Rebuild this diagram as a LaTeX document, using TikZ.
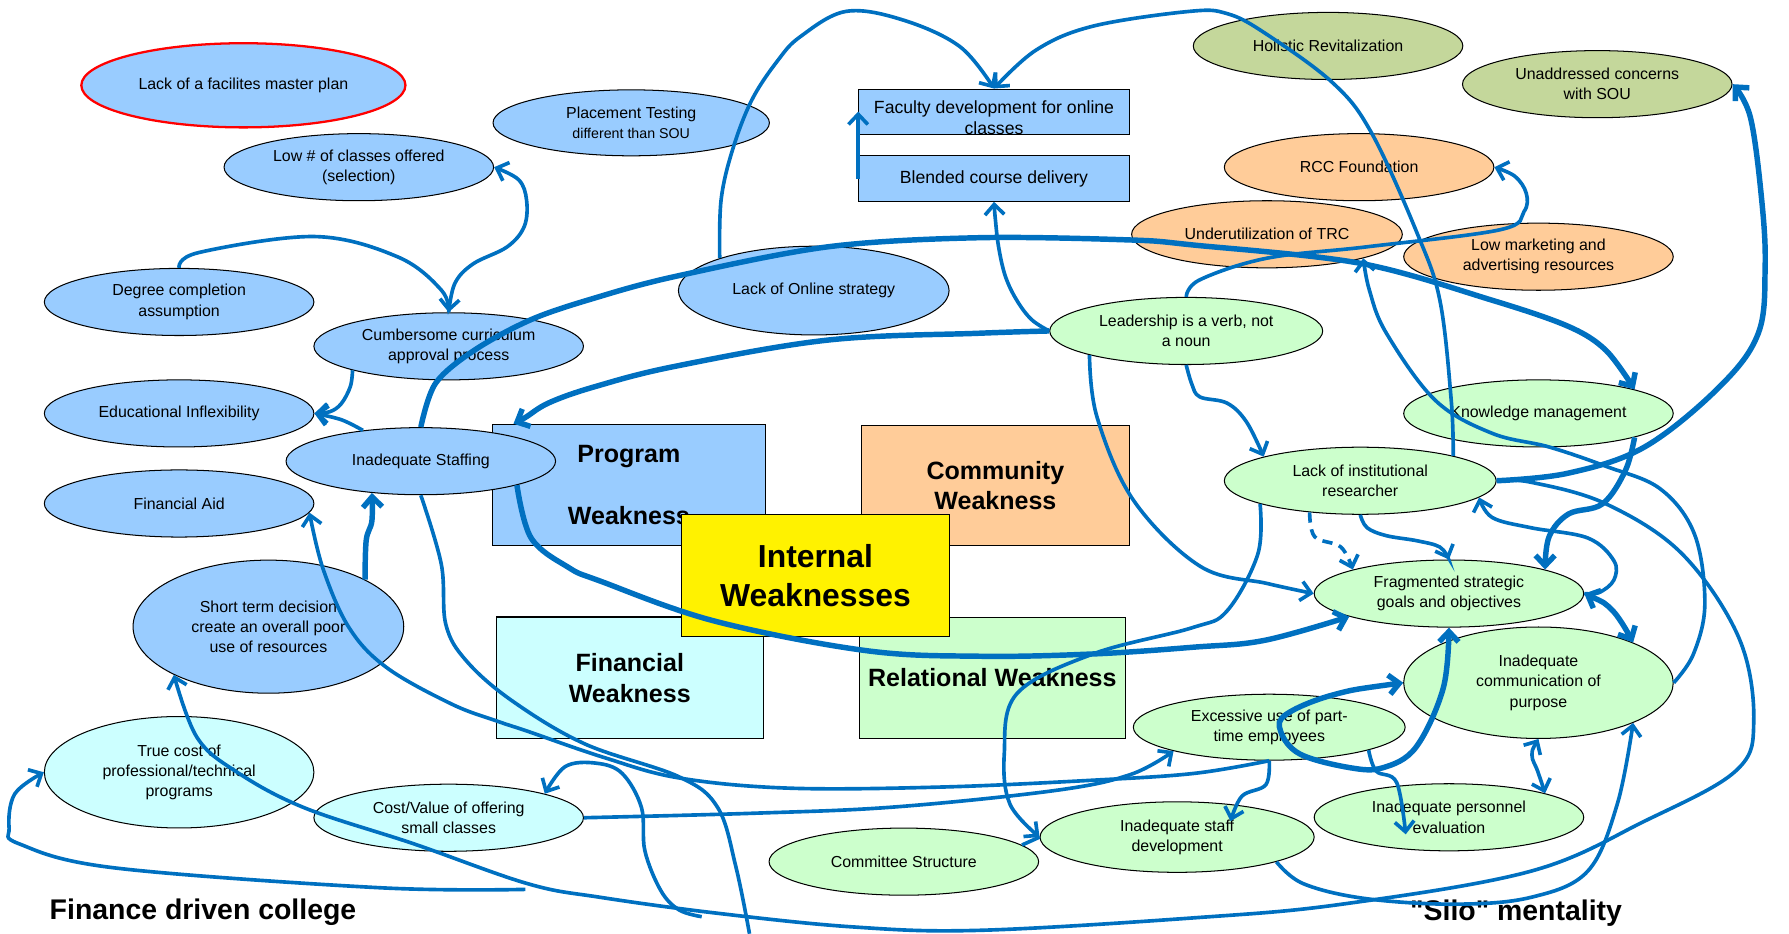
\documentclass[tikz,border=0pt]{standalone}
\usepackage{fontspec}
\setmainfont{Liberation Sans}[Ligatures=TeXOff]
\usetikzlibrary{shapes.geometric,arrows.meta,calc}
\definecolor{cblue}{HTML}{99CCFF}
\definecolor{ccyan}{HTML}{CCFFFF}
\definecolor{corange}{HTML}{FFCC99}
\definecolor{colive}{HTML}{C4D79B}
\definecolor{cgreen}{HTML}{CCFFCC}
\definecolor{lnk}{HTML}{0070C0}
\begin{document}
\begin{tikzpicture}[x=1pt,y=-1pt,
  el/.style={ellipse,draw=black,line width=0.9pt,inner sep=0pt,minimum width=237pt,minimum height=59pt},
  eb/.style={el,fill=cblue}, ec/.style={el,fill=ccyan}, eo/.style={el,fill=corange},
  eg/.style={el,fill=colive}, egr/.style={el,fill=cgreen},
  tx/.style={font=\fontsize{14}{17.8}\selectfont,align=center,inner sep=0pt},
  bx/.style={draw=black,line width=0.9pt,inner sep=0pt},
  btx/.style={font=\fontsize{15.5}{19}\selectfont,align=center,inner sep=0pt},
  bt/.style={font=\bfseries\fontsize{22}{26.5}\selectfont,align=center,inner sep=0pt},
  con/.style={draw=lnk,line width=3.2pt},
  thk/.style={draw=lnk,line width=4.8pt},
  sm/.style={smooth,tension=0.6},
  >={Straight Barb[length=9pt,width=17pt]}
]
\useasboundingbox (0,0) rectangle (1573,821.2);

% ---- boxes
\node[bx,fill=cblue,minimum width=238pt,minimum height=39.6pt] (fac) at (874,98.1) {};
\begin{scope}
\clip (fac.south west) rectangle (fac.north east);
\node[btx,yshift=-5.5pt] (fac-t) at (fac) {Faculty development for online\\classes};
\end{scope}
\node[bx,fill=cblue,minimum width=238pt,minimum height=40pt] (blend) at (874,157) {};
\node[btx] (blend-t) at (blend) {Blended course delivery};
\node[bx,fill=cblue,minimum width=240pt,minimum height=107pt] (prog) at (553,426.5) {};
\node[bt,font=\bfseries\fontsize{22}{27.3}\selectfont] (prog-t) at (prog) {Program\\\mbox{}\\Weakness};
\node[bx,fill=corange,minimum width=235pt,minimum height=106pt] (comm) at (875.2,427) {};
\node[bt,font=\bfseries\fontsize{22}{25.8}\selectfont] (comm-t) at (comm) {Community\\Weakness};
\node[bx,fill=ccyan,minimum width=235pt,minimum height=107pt] (fin) at (553.7,596) {};
\node[bt,font=\bfseries\fontsize{22}{27.3}\selectfont] (fin-t) at (fin) {Financial\\Weakness};
\node[bx,fill=cgreen,minimum width=234pt,minimum height=106pt] (rel) at (872.5,596) {};
\node[bt] (rel-t) at (rel) {Relational Weakness};
\node[bx,fill=yellow,minimum width=235pt,minimum height=107pt] (intw) at (717,506.2) {};
\node[bt,font=\bfseries\fontsize{28}{34.7}\selectfont] (intw-t) at (intw) {Internal\\Weaknesses};

% ---- blue ellipses
\node[eb,minimum width=285pt,minimum height=74pt,draw=red,line width=2pt] (lmp) at (214,75) {};
\node[tx] (lmp-t) at (lmp) {Lack of a facilites master plan};
\node[eb,minimum width=243pt,minimum height=58pt] (place) at (555,108) {};
\node[tx] (place-t) at (place) {Placement Testing\\{\fontsize{12.5}{15}\selectfont different than SOU}};
\node[eb] (low) at (315.5,147) {};
\node[tx] (low-t) at (low) {Low \# of classes offered\\(selection)};
\node[eb] (deg) at (157.5,265.5) {};
\node[tx] (deg-t) at (deg) {Degree completion\\assumption};
\node[eb] (cum) at (394.5,304.5) {};
\node[tx] (cum-t) at (cum) {Cumbersome curriculum\\approval process};
\node[eb] (edu) at (157.5,363.5) {};
\node[tx] (edu-t) at (edu) {Educational Inflexibility};
\node[eb] (faid) at (157.5,442.7) {};
\node[tx] (faid-t) at (faid) {Financial Aid};
\node[eb] (staff) at (370,405.5) {};
\node[tx] (staff-t) at (staff) {Inadequate Staffing};
\node[eb,minimum width=238pt,minimum height=117pt] (short) at (236,551) {};
\node[tx] (short-t) at (short) {Short term decision\\create an overall poor\\use of resources};
\node[eb,minimum width=238pt,minimum height=78pt] (online) at (715.5,255.5) {};
\node[tx] (online-t) at (online) {Lack of Online strategy};
\node[ec,minimum height=98pt] (tcost) at (157.5,679) {};
\node[tx] (tcost-t) at (tcost) {True cost of\\professional/technical\\programs};
\node[ec] (cv) at (394.5,719) {};
\node[tx] (cv-t) at (cv) {Cost/Value of offering\\small classes};

% ---- orange / olive / green ellipses
\node[eo] (rcc) at (1195,147) {};
\node[tx] (rcc-t) at (rcc) {RCC Foundation};
\node[eo,minimum width=238pt] (trc) at (1114,206) {};
\node[tx] (trc-t) at (trc) {Underutilization of TRC};
\node[eo] (mkt) at (1352.7,225.7) {};
\node[tx] (mkt-t) at (mkt) {Low marketing and\\advertising resources};
\node[eg] (hol) at (1167.7,40.4) {};
\node[tx] (hol-t) at (hol) {Holistic Revitalization};
\node[eg] (sou) at (1404.4,74) {};
\node[tx] (sou-t) at (sou) {Unaddressed concerns\\with SOU};
\node[egr,minimum width=240pt] (lead) at (1043,291) {};
\node[tx] (lead-t) at (lead) {Leadership is a verb, not\\a noun};
\node[egr] (km) at (1352.7,363.5) {};
\node[tx] (km-t) at (km) {Knowledge management};
\node[egr,minimum width=239pt] (lir) at (1196,422.7) {};
\node[tx] (lir-t) at (lir) {Lack of institutional\\researcher};
\node[egr] (frag) at (1274,521.9) {};
\node[tx] (frag-t) at (frag) {Fragmented strategic\\goals and objectives};
\node[egr,minimum height=98pt] (icp) at (1352.7,600.3) {};
\node[tx] (icp-t) at (icp) {Inadequate\\communication of\\purpose};
\node[egr,minimum width=239pt,minimum height=58pt] (exc) at (1116,639.4) {};
\node[tx] (exc-t) at (exc) {Excessive use of part-\\time employees};
\node[egr] (pers) at (1274,718.6) {};
\node[tx] (pers-t) at (pers) {Inadequate personnel\\evaluation};
\node[egr,minimum width=241pt,minimum height=62pt] (sdev) at (1035,736) {};
\node[tx] (sdev-t) at (sdev) {Inadequate staff\\development};
\node[egr] (cst) at (794.7,757.6) {};
\node[tx] (cst-t) at (cst) {Committee Structure};

% ---- titles
\node[font=\bfseries\fontsize{25}{30}\selectfont,inner sep=0pt] (fdc) at (178.5,802) {Finance driven college};
\node[font=\bfseries\fontsize{25}{30}\selectfont,inner sep=0pt] (silo) at (1333,803) {"Silo" mentality};

% ---- free ends
\coordinate (tfree) at (462,782);
\coordinate (sfree) at (659,821);
\coordinate (cfree) at (617,806);

% ---- connectors
\draw[con,->] plot[sm] coordinates {(deg.north) (175,222) (277,208) (350,226) (388,255) (cum.north)};
\draw[con,->] plot[sm] coordinates {(cum.north) (400,249) (416,232) (446,217) (461,199) (463,176) (456,158) (low.east)};
\draw[con,->] plot[sm] coordinates {(cum.194) (308,340) (300,355) (290,362) (edu.east)};
\draw[con,->] plot[sm] coordinates {(staff.152) (300,369) (edu.east)};
\draw[thk,->] plot[smooth,tension=0.55] coordinates {(staff.north) (383,337) (417,308) (467,281) (523,262) (594,243) (728,217) (861,209) (994,211) (1050,215.5) (1196,231.5) (1312,264) (1379,287) (1412,308) (km.14)};
\draw[thk,->] plot[sm] coordinates {(lead.west) (861,293) (728,299) (594,322) (523,340) (483,354) (462,367) (prog.152)};
\draw[con,->] plot[sm] coordinates {(lead.west) (907,281) (894,264) (884,243) (878,217) (875,191) (blend.south)};
\draw[con,->] (blend.west) -- (fac.west);
\draw[con,->] plot[sm] coordinates {(online.161) (634,176) (644,132) (661,88) (684,53) (704,32) (744,10) (794,17.6) (844,41) (fac.north)};
\draw[con,->] plot[sm] coordinates {(lir.15) (1276,352) (1266,264) (1246,205) (1206,117) (1172,73) (1112,29) (1079,12) (1046,10) (961,23) (911,44) (fac.north)};
\draw[con,->] plot[sm] coordinates {(lead.north) (1055,246) (1114,227) (1202,217) (1319,202) (1340,186) (1342,170) (1332,155) (rcc.east)};
\draw[con,->] plot[sm] coordinates {(lead.south) (1048,338) (1055,349) (1079,354.5) (1096,371) (lir.166)};
\draw[con,->] plot[sm] coordinates {(lead.194) (964.5,366.5) (996.7,440) (1055.4,498) (1114,513) (frag.west)};
\draw[con,->] plot[sm] coordinates {(lir.193) (1106,487) (1079,537) (1048,552) (961,575) (894,610) (883,663) (888,707) (sdev.west)};
\draw[con] (cst.8) -- (sdev.west);
\draw[con,dashed,dash pattern=on 9pt off 6pt,->] plot[sm] coordinates {(lir.212) (1156,472) (1179,481) (frag.166)};
\draw[con,->] plot[sm] coordinates {(lir.south) (1202,464) (1219,471) (1246,475.5) (1266,481) (frag.north)};
\draw[thk,->] plot[sm] coordinates {(km.346) (1429,414) (1409,443) (1379,452) (1362,472) (frag.14)};
\draw[con,->] plot[sm] coordinates {(frag.east) (1406,521) (1419,510) (1419,493) (1396,473) (1346,464) (1312,455) (lir.352)};
\draw[thk,<->] plot[sm] coordinates {(frag.east) (1418,537) (icp.23)};
\draw[con,->] plot[sm] coordinates {(lir.east) (1346,424) (1412,443) (1479,487) (1529,561) (1542,634) (1526,678) (1446,722) (1346,766) (1180,795) (1050,807) (861,818) (750,815) (631,803) (528,789) (464,777) (364,742) (267,710) (207,678) (173,648) (short.207)};
\draw[con,->] plot[sm] coordinates {(tfree) (333,780.5) (100,763) (17,742) (8,728) (13,698) (tcost.west)};
\draw[con] plot[sm] coordinates {(staff.south) (388,496) (392,549) (410,581) (450,616) (514,654) (597,683) (631,710) (647,762) (sfree)};
\draw[con,->] plot[sm] coordinates {(cfree) (597,800) (581,783) (567,748) (564,710) (547,680) (524,671) (497,674) (cv.14)};
\draw[con,->] plot[sm] coordinates {(exc.south) (1050,680) (961,686) (828,692) (694,693) (597,684) (531,666) (464,643) (437,634) (397,619) (340,587) (307,552) (284,500) (faid.356)};
\draw[con,->] plot[sm] coordinates {(exc.south) (1113,690) (1092,700) ($(sdev.center)+(47,-14)$)};
\draw[con,->] plot[sm] coordinates {(exc.347) (1210,678) (1228,688) ($(pers.center)+(-38,15)$)};
\draw[thk,<->] plot[sm] coordinates {(icp.west) (1172,611) (1131,628) (1126,643) (1143,663) (1187,675) (1216,675) (1245,657) (1269,605) (frag.south)};
\draw[con,<->] plot[sm] coordinates {(icp.south) (1347,664) (1352,678) (pers.14)};
\draw[con,->] plot[sm] coordinates {(sdev.346) (1146,777) (1200,790) (1279,795) (1346,789) (1396,766) (1422,707) (icp.337)};
\draw[thk,->] plot[sm] coordinates {(lir.east) (1379,416) (1446,393) (1512,340) (1546,293) (1552,235) (1549,176) (1539,103) (sou.east)};
\draw[con,->] plot[sm] coordinates {(icp.east) (1489,575) (1499,531) (1490,470) (1460,430) (1412,410) (1362,393) (1312,381) (1262,352) (1219,293) (1204,255) (trc.346)};
\draw[thk,->] plot[sm] coordinates {(staff.346) (467,473) (500,499) (528,511) (628,546) (761,572) (861,577) (961,575) (1050,569) (1112,563) (frag.193)};
\draw[con,->] plot[sm] coordinates {(cv.east) (664,715) (787,709.5) (928,695) (994,681) (exc.194)};
\draw[thk,->] plot[sm] coordinates {(short.26) (322,475) (327,458) (staff.213)};
\end{tikzpicture}
\end{document}
